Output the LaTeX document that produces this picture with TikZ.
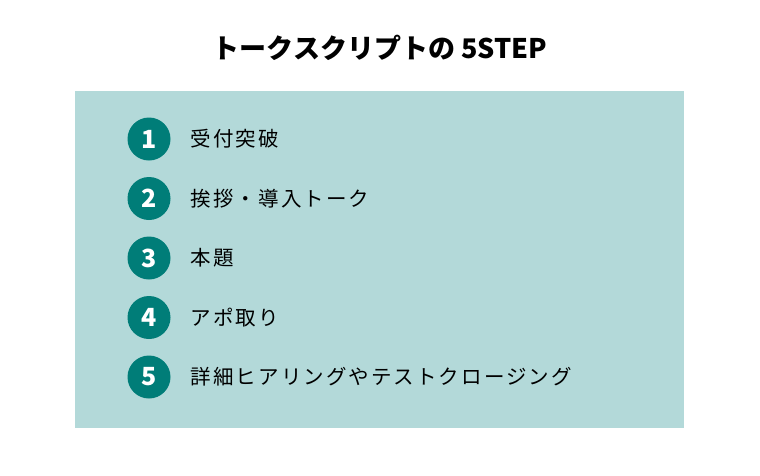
\documentclass[tikz,border=0pt]{standalone}
\usepackage{fontspec}
\setmainfont{Noto Sans CJK JP}
\newfontfamily\itemfont{Noto Sans CJK JP}[LetterSpace=10]
\usepackage{tikz}
\usetikzlibrary{positioning}
\definecolor{boxteal}{RGB}{179,217,217}
\definecolor{stepteal}{RGB}{0,125,120}

\begin{document}
\begin{tikzpicture}[x=1pt, y=-1pt,
		stepnum/.style={circle, fill=stepteal, minimum size=43pt, inner sep=0pt, text=white, font=\bfseries\fontsize{25}{25}\selectfont},
		steplabel/.style={anchor=west, inner sep=0pt, right=20pt of #1, font=\itemfont\fontsize{20.5}{20.5}\selectfont}]
				\useasboundingbox (0,0) rectangle (760,475);
				% Background and title:
				\fill[boxteal] (75,91) rectangle (684,428);
				\node[font=\bfseries\fontsize{27}{27}\selectfont] (title) at (380,48) {トークスクリプトの 5STEP};
				% Steps:
				\node[stepnum] (n1) at (149,139) {1};
				\node[steplabel=n1] (t1) {受付突破};
				\node[stepnum] (n2) at (149,198.5) {2};
				\node[steplabel=n2] (t2) {挨拶・導入トーク};
				\node[stepnum] (n3) at (149,258) {3};
				\node[steplabel=n3] (t3) {本題};
				\node[stepnum] (n4) at (149,317.5) {4};
				\node[steplabel=n4] (t4) {アポ取り};
				\node[stepnum] (n5) at (149,377) {5};
				\node[steplabel=n5] (t5) {詳細ヒアリングやテストクロージング};
			\end{tikzpicture}
\end{document}
